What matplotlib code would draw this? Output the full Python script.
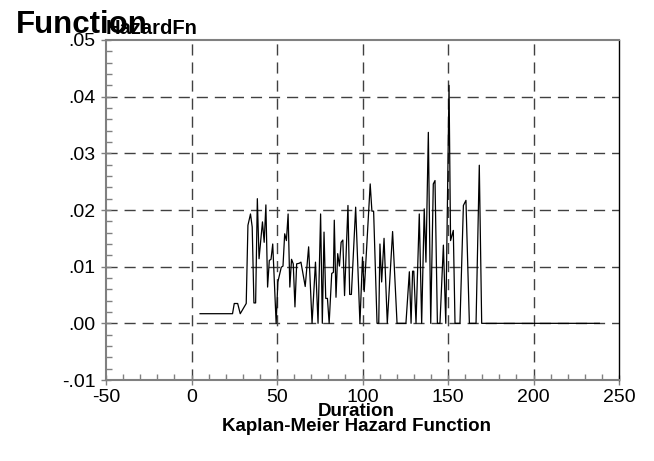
import matplotlib
matplotlib.use('Agg')
import matplotlib.pyplot as plt
from matplotlib.ticker import MultipleLocator, FuncFormatter

plt.rcParams['font.family'] = ['Liberation Sans', 'DejaVu Sans']
plt.rcParams['axes.unicode_minus'] = False

# Kaplan-Meier hazard estimates
duration = [5, 24, 25, 27, 28.5, 32, 33, 34.5, 35.5, 36.5, 37.5, 38.5, 39.5,
            41.5, 42.5, 43.5, 44.5, 45.5, 46.5, 47.5, 49.5, 50.5, 52.5, 53.5,
            54.5, 55.5, 56.5, 57.5, 58.5, 59.5, 60.5, 61.5, 63, 64, 66.5, 68.5,
            70.5, 72.5, 74, 75.5, 76.5, 77.5, 78.5, 79.5, 80.5, 82, 83, 83.5,
            84.5, 85.5, 86.5, 87.5, 88.5, 89.5, 91.5, 92.5, 93.5, 96, 98.5,
            100, 101, 104.5, 105.5, 106.5, 108.5, 109.5, 110.2, 111.2, 112.6,
            114.5, 117.6, 120.2, 125.4, 127.4, 128.4, 129.3, 130, 131.3, 133.2,
            134.6, 136.1, 137.1, 138.5, 139.9, 141.4, 142.4, 143.8, 145.3,
            147.3, 148.7, 150.6, 151.5, 153.1, 154.1, 157, 159, 160.5, 162.5,
            166.4, 168.3, 169.7, 238.5]
hazard = [0.0017, 0.0017, 0.0035, 0.0035, 0.0017, 0.0035, 0.0173, 0.0193,
          0.0170, 0.0036, 0.0036, 0.0220, 0.0114, 0.0179, 0.0143, 0.0209,
          0.0064, 0.0111, 0.0113, 0.0140, 0.0000, 0.0073, 0.0099, 0.0101,
          0.0158, 0.0146, 0.0193, 0.0064, 0.0113, 0.0105, 0.0029, 0.0105,
          0.0106, 0.0108, 0.0065, 0.0135, 0.0000, 0.0108, 0.0000, 0.0193,
          0.0000, 0.0161, 0.0044, 0.0044, 0.0000, 0.0088, 0.0090, 0.0182,
          0.0046, 0.0123, 0.0101, 0.0143, 0.0147, 0.0049, 0.0208, 0.0051,
          0.0051, 0.0205, 0.0000, 0.0117, 0.0056, 0.0246, 0.0198, 0.0198,
          0.0000, 0.0000, 0.0140, 0.0073, 0.0150, 0.0000, 0.0162, 0.0000,
          0.0000, 0.0091, 0.0000, 0.0092, 0.0092, 0.0000, 0.0193, 0.0000,
          0.0202, 0.0108, 0.0337, 0.0000, 0.0246, 0.0252, 0.0000, 0.0000,
          0.0138, 0.0000, 0.0420, 0.0146, 0.0164, 0.0000, 0.0000, 0.0208,
          0.0217, 0.0000, 0.0000, 0.0279, 0.0000, 0.0000]

W, H = 654, 461
fig = plt.figure(figsize=(W / 100, H / 100), dpi=100)
ax = fig.add_axes([106 / W, 1 - 380 / H, (619 - 106) / W, (380 - 40) / H])

ax.plot(duration, hazard, color='black', linewidth=0.9)

ax.set_xlim(-50, 250)
ax.set_ylim(-0.01, 0.05)
ax.xaxis.set_major_locator(MultipleLocator(50))
ax.xaxis.set_minor_locator(MultipleLocator(10))
ax.yaxis.set_major_locator(MultipleLocator(0.01))
ax.yaxis.set_minor_locator(MultipleLocator(0.002))


def fmt_y(v, pos):
    s = f"{v:.2f}"
    return s.replace('0.', '.', 1)


ax.yaxis.set_major_formatter(FuncFormatter(fmt_y))

# dashed grid, no lines on the frame
for x in [0, 50, 100, 150, 200]:
    ax.axvline(x, color='#404040', linestyle=(0, (8, 5)), linewidth=1, zorder=0)
for y in [0.0, 0.01, 0.02, 0.03, 0.04]:
    ax.axhline(y, color='#404040', linestyle=(0, (8, 5)), linewidth=1, zorder=0)

ax.tick_params(which='major', direction='inout', length=7, width=1,
               color='#808080', labelsize=14, pad=4)
ax.tick_params(which='minor', direction='in', length=4, width=1, color='#808080')
ax.tick_params(axis='x', which='major', pad=3)

for side in ['left', 'bottom', 'top']:
    ax.spines[side].set_color('#808080')
    ax.spines[side].set_linewidth(1.5)
ax.spines['right'].set_color('black')
ax.spines['right'].set_linewidth(1)

fig.text(16 / W, 1 - 33 / H, 'Function', fontsize=22.5, fontweight='bold',
         ha='left', va='baseline')
fig.text(106 / W, 1 - 34 / H, 'HazardFn', fontsize=14.5, fontweight='bold',
         ha='left', va='baseline')
fig.text(356 / W, 1 - 416 / H, 'Duration', fontsize=13.5, fontweight='bold',
         ha='center', va='baseline')
fig.text(356 / W, 1 - 431 / H, 'Kaplan-Meier Hazard Function', fontsize=13.5,
         fontweight='bold', ha='center', va='baseline')

fig.savefig('out.png', dpi=100)
